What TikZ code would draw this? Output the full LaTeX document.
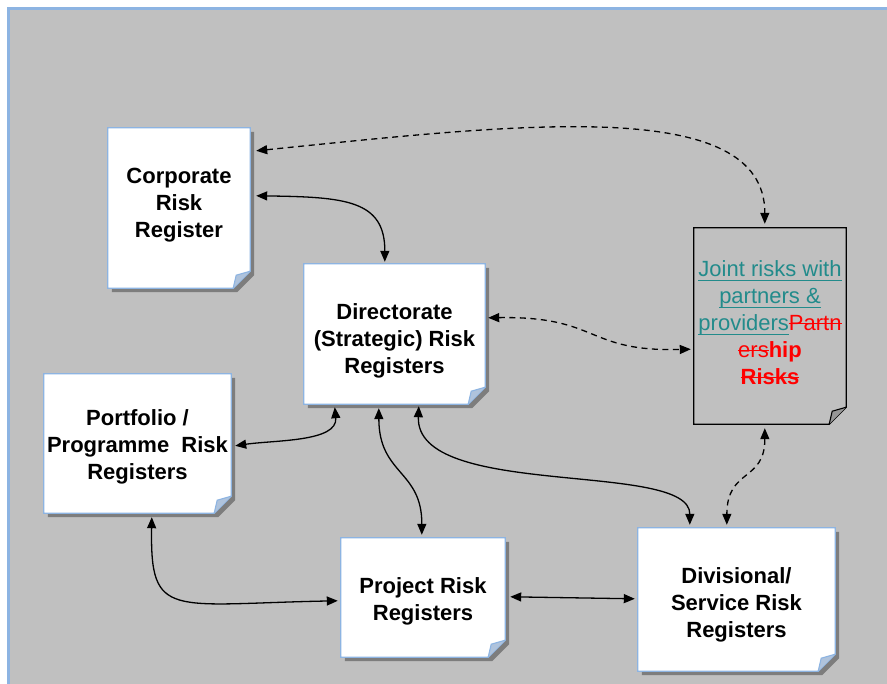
\documentclass[tikz,border=0pt]{standalone}
\usepackage{fontspec}
\setmainfont{Liberation Sans}
\usetikzlibrary{arrows.meta,calc,backgrounds}
\definecolor{bggray}{RGB}{192,192,192}
\definecolor{boxblue}{RGB}{141,180,226}
\definecolor{foldblue}{RGB}{175,195,220}
\definecolor{shadowgray}{RGB}{125,125,125}
\definecolor{tealtxt}{RGB}{34,139,139}
\definecolor{foldgray}{RGB}{150,150,150}
\newsavebox{\mylinebox}
\newcommand{\myul}[1]{\sbox{\mylinebox}{#1}\rlap{\rule[-0.18em]{\wd\mylinebox}{1.1pt}}\usebox{\mylinebox}}
\newcommand{\mystrk}[1]{\sbox{\mylinebox}{#1}\rlap{\rule[0.3em]{\wd\mylinebox}{1.1pt}}\usebox{\mylinebox}}
\tikzset{
  docbox/.style={rectangle, inner sep=0pt},
  doctext/.style={inner sep=0pt, align=center,
    font=\fontsize{22}{27}\selectfont\bfseries},
  conn/.style={line width=1.3pt, draw=black,
    {Triangle[length=11pt,width=9pt]}-{Triangle[length=11pt,width=9pt]}},
  dconn/.style={conn, dash pattern=on 6pt off 4.5pt},
}
\newcommand{\paperbox}[2]{%
  \begin{scope}[on background layer]
    \fill[shadowgray] ($(#1.north west)+(4,4)$) -- ($(#1.north east)+(4,4)$)
      -- ($(#1.south east)+(4,4-#2)$) -- ($(#1.south east)+(4-#2,4)$)
      -- ($(#1.south west)+(4,4)$) -- cycle;
    \filldraw[fill=white, draw=boxblue, line width=1.3pt]
      (#1.north west) -- (#1.north east) -- ($(#1.south east)+(0,-#2)$)
      -- ($(#1.south east)+(-#2,0)$) -- (#1.south west) -- cycle;
    \filldraw[fill=foldblue, draw=boxblue, line width=1.1pt, line join=round]
      ($(#1.south east)+(0,-#2)$) -- ($(#1.south east)+(-#2+3,-#2+4)$)
      -- ($(#1.south east)+(-#2,0)$);
  \end{scope}}
\begin{document}
\begin{tikzpicture}[x=1pt,y=-1pt]
\useasboundingbox (0,0) rectangle (887,684);
\begin{scope}[on background layer]
\fill[white] (0,0) rectangle (887,684);
\fill[bggray] (8.5,8.5) rectangle (887,684);
\draw[boxblue, line width=3pt] (8.5,684) -- (8.5,8.5) -- (887,8.5);
\end{scope}

% boxes
\node[docbox, minimum width=142pt, minimum height=160pt,
  label={[doctext, yshift=2.5pt]center:{Corporate\\Risk\\Register}}] (corp) at (179,208) {};
\paperbox{corp}{17}
\node[docbox, minimum width=181pt, minimum height=140pt,
  label={[doctext, yshift=-7pt]center:{Directorate\\(Strategic) Risk\\Registers}}] (dir) at (394.5,334) {};
\paperbox{dir}{17}
\node[docbox, minimum width=187pt, minimum height=139pt,
  label={[doctext, yshift=-3pt]center:{Portfolio /\\Programme\ \ Risk\\Registers}}] (port) at (137.5,443.5) {};
\paperbox{port}{17}
\node[docbox, minimum width=164pt, minimum height=119pt,
  label={[doctext, yshift=-4pt]center:{Project Risk\\Registers}}] (proj) at (423,597.5) {};
\paperbox{proj}{17}
\node[docbox, minimum width=197pt, minimum height=143pt,
  label={[doctext, yshift=-5pt]center:{Divisional/\\Service Risk\\Registers}}] (div) at (736.5,599.5) {};
\paperbox{div}{17}

\node[docbox, minimum width=152pt, minimum height=196pt,
  label={[doctext, font=\fontsize{22}{27}\selectfont, yshift=3pt]center:{%
   {\color{tealtxt}\myul{Joint risks with}}\\
   {\color{tealtxt}\myul{partners \&}}\\
   {\color{tealtxt}\myul{providers}}{\color{red}\mystrk{Partn}}\\
   {\color{red}\mystrk{ers}\textbf{hip}}\\
   {\color{red}\mystrk{\textbf{Risks}}}}}] (joint) at (770,326) {};
\begin{scope}[on background layer]
  \filldraw[fill=bggray, draw=black, line width=1.3pt]
    (joint.north west) -- (joint.north east) -- ($(joint.south east)+(0,-17)$)
    -- ($(joint.south east)+(-17,0)$) -- (joint.south west) -- cycle;
  \filldraw[fill=foldgray, draw=black, line width=1.1pt, line join=round]
    ($(joint.south east)+(0,-17)$) -- ($(joint.south east)+(-14,-13)$)
    -- ($(joint.south east)+(-17,0)$);
\end{scope}

% connectors
\draw[conn] ($(corp.north east)+(6,68)$) .. controls (345,197) and (385,200) .. ($(dir.north west)+(81,-2)$);
\draw[dconn] ($(corp.north east)+(6,23)$) .. controls (520,124) and (765,95) .. ($(joint.north west)+(71,-4)$);
\draw[dconn] ($(dir.north east)+(3,54)$) .. controls (600,316) and (585,352) .. ($(joint.south west)+(-3,-75)$);
\draw[conn] ($(dir.south west)+(31,3)$) .. controls (338,442) and (275,440) .. ($(port.north east)+(4,72)$);
\draw[conn] ($(dir.south west)+(75,4)$) .. controls (379,475) and (422,470) .. ($(proj.north west)+(81,-3)$);
\draw[conn] ($(dir.south west)+(115,2)$) .. controls (415,500) and (690,460) .. ($(div.north west)+(52,-3)$);
\draw[dconn] ($(joint.south west)+(71,4)$) .. controls (765,482) and (727,468) .. ($(div.north west)+(89,-3)$);
\draw[conn] ($(port.south west)+(108,4)$) .. controls (150,620) and (170,604) .. ($(proj.north west)+(-3,63)$);
\draw[conn] ($(proj.north east)+(5,59)$) -- ($(div.north west)+(-3,71)$);
\end{tikzpicture}
\end{document}
